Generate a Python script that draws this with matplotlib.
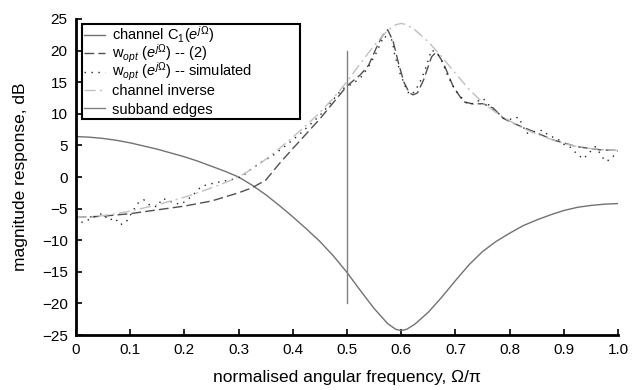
import matplotlib
matplotlib.use("Agg")
import matplotlib.pyplot as plt
from matplotlib.transforms import Bbox

plt.rcParams['font.family'] = ['Liberation Sans', 'DejaVu Sans']
plt.rcParams['mathtext.fontset'] = 'custom'
plt.rcParams['mathtext.rm'] = 'Liberation Sans'
plt.rcParams['mathtext.it'] = 'Liberation Sans:italic'

# channel C1 magnitude (dB)
x_ch = [0.0, 0.025, 0.05, 0.075, 0.10, 0.125, 0.15, 0.175, 0.20, 0.225, 0.25, 0.275,
        0.30, 0.325, 0.35, 0.375, 0.40, 0.425, 0.45, 0.475, 0.50, 0.525, 0.55, 0.575,
        0.59, 0.60, 0.61, 0.625, 0.65, 0.675, 0.70, 0.725, 0.75, 0.775, 0.80, 0.825,
        0.85, 0.875, 0.90, 0.925, 0.95, 0.975, 1.0]
ch = [6.4, 6.3, 6.1, 5.8, 5.4, 4.9, 4.4, 3.8, 3.2, 2.5, 1.7, 0.9,
      0.0, -1.3, -2.8, -4.5, -6.3, -8.2, -10.2, -12.5, -15.1, -18.0, -20.8, -23.2,
      -24.1, -24.3, -24.1, -23.3, -21.4, -19.0, -16.4, -13.9, -11.8, -10.2, -8.9, -7.7,
      -6.8, -6.0, -5.3, -4.8, -4.5, -4.3, -4.2]
# channel inverse
inv = [-v for v in ch]

# w_opt from (2)
x_w = [0.0, 0.05, 0.10, 0.15, 0.20, 0.25, 0.30, 0.325, 0.35, 0.375, 0.40, 0.45,
       0.50, 0.525, 0.54, 0.555, 0.565, 0.575, 0.585, 0.595, 0.605, 0.615, 0.622,
       0.63, 0.641, 0.656, 0.665, 0.678, 0.696, 0.715, 0.733, 0.751, 0.77, 0.788,
       0.807, 0.844, 0.881, 0.924, 0.967, 1.0]
w = [-6.4, -6.2, -5.8, -5.2, -4.6, -3.8, -2.5, -1.7, -0.5, 2.1, 4.5, 9.2,
     14.4, 16.2, 17.7, 20.6, 22.3, 23.3, 21.5, 18.0, 15.0, 13.3, 13.0,
     13.3, 15.3, 19.0, 19.8, 18.0, 14.3, 11.9, 11.55, 11.6, 10.9, 9.3,
     8.5, 7.2, 5.85, 4.8, 4.3, 4.2]

# w_opt simulated
x_s = [0.0, 0.012, 0.025, 0.038, 0.049, 0.060, 0.072, 0.081, 0.092, 0.109, 0.113,
       0.125, 0.138, 0.150, 0.159, 0.172, 0.178, 0.194, 0.207, 0.220, 0.231, 0.243,
       0.258, 0.275, 0.290, 0.306, 0.319, 0.346, 0.360, 0.386, 0.413, 0.449, 0.464,
       0.480, 0.491, 0.513, 0.527, 0.54, 0.555, 0.568, 0.5825, 0.5855, 0.5886,
       0.5947, 0.5978, 0.604, 0.610, 0.616, 0.625, 0.635, 0.644, 0.650, 0.656,
       0.662, 0.672, 0.678, 0.684, 0.693, 0.702, 0.715, 0.724, 0.739, 0.751, 0.773,
       0.785, 0.788, 0.807, 0.816, 0.824, 0.831, 0.847, 0.861, 0.873, 0.888, 0.899,
       0.911, 0.923, 0.936, 0.947, 0.958, 0.967, 0.976, 0.985, 1.0]
s = [-6.4, -7.2, -6.7, -6.1, -5.75, -6.85, -6.5, -7.55, -7.2, -4.8, -4.2,
     -3.6, -4.6, -4.7, -3.4, -3.7, -4.1, -4.3, -3.5, -2.5, -1.5, -1.2,
     -0.9, -0.6, -0.35, 0.05, 1.0, 2.6, 3.2, 4.9, 6.8, 9.65, 11.1,
     12.8, 13.9, 14.9, 15.9, 17.5, 19.8, 22.3, 21.7, 20.6, 19.0,
     17.7, 16.4, 15.1, 13.8, 13.0, 13.5, 15.1, 16.9, 18.5, 20.1,
     19.8, 19.0, 17.7, 16.4, 14.8, 13.5, 12.2, 11.4, 11.9, 12.45, 10.3,
     9.8, 9.3, 9.1, 9.5, 8.2, 6.9, 7.2, 7.4, 6.5, 6.1, 5.2,
     4.8, 3.75, 2.85, 3.85, 4.8, 3.75, 2.5, 2.7, 4.1]

# subband edge
edge_x = [0.5, 0.5]
edge_y = [-20, 20]

xticks = [0, 0.1, 0.2, 0.3, 0.4, 0.5, 0.6, 0.7, 0.8, 0.9, 1.0]
xticklabels = ['0', '0.1', '0.2', '0.3', '0.4', '0.5', '0.6', '0.7', '0.8', '0.9', '1.0']
yticks = [-25, -20, -15, -10, -5, 0, 5, 10, 15, 20, 25]
yticklabels = ['\u221225', '\u221220', '\u221215', '\u221210', '\u22125', '0', '5', '10', '15', '20', '25']

fig = plt.figure(figsize=(6.41, 3.90), dpi=100)
ax = fig.add_axes([0.1186, 0.141, 0.8455, 0.8103])

ax.plot(x_ch, ch, color='#727272', lw=1.0, label=r'channel C$_1$($e^{j\Omega}$)')
ax.plot(x_w, w, color='#505050', lw=1.0, ls=(0, (7, 3)), label=r'w$_{opt}$ ($e^{j\Omega}$) -- (2)')
ax.plot(x_s, s, color='#222222', lw=1.0, ls=(0, (1, 4)), label=r'w$_{opt}$ ($e^{j\Omega}$) -- simulated')
ax.plot(x_ch, inv, color='#c0c0c0', lw=1.0, ls=(0, (8, 3, 1.5, 3)), label='channel inverse')
ax.plot(edge_x, edge_y, color='#808080', lw=1.0, label='subband edges')

ax.set_xlim(0, 1)
ax.set_ylim(-25, 25)
ax.set_xticks(xticks)
ax.set_xticklabels(xticklabels)
ax.set_yticks(yticks)
ax.set_yticklabels(yticklabels)
ax.tick_params(direction='in', length=4, width=1.2, labelsize=11, pad=6)
for sp in ['top', 'right']:
    ax.spines[sp].set_visible(False)
for sp in ['left', 'bottom']:
    ax.spines[sp].set_linewidth(2.0)

ax.set_xlabel('normalised angular frequency, \u03a9/\u03c0', fontsize=12.5, labelpad=9)
ax.set_ylabel('magnitude response, dB', fontsize=12.5, labelpad=10)

leg = ax.legend(loc='upper left', bbox_to_anchor=(0.011, 0.5, 0.402, 0.484), mode='expand',
                fontsize=10.5, handlelength=1.4, handletextpad=0.5, labelspacing=0.1,
                borderpad=0.15, borderaxespad=0.0, fancybox=False, framealpha=1)
leg.get_frame().set_edgecolor('black')
leg.get_frame().set_linewidth(1.5)

# give every legend row the same height
ASC, DESC = 13.5, 3.5
for col in leg._legend_handle_box.get_children():
    for item in col.get_children():
        for child in item.get_children():
            if child.__class__.__name__ == 'TextArea':
                orig = child.get_bbox

                def fixed(renderer, _orig=orig):
                    bb = _orig(renderer)
                    return Bbox.from_bounds(bb.x0, -DESC, bb.width, ASC + DESC)
                child.get_bbox = fixed

fig.savefig('out.png', dpi=100)
